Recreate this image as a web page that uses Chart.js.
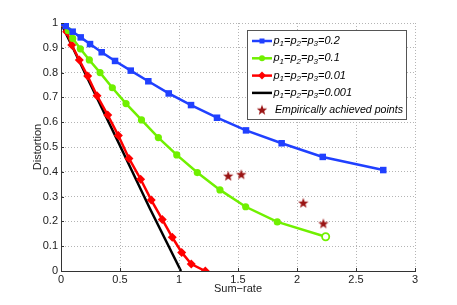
<!DOCTYPE html>
<html>
<head>
<meta charset="UTF-8">
<script src="https://cdn.jsdelivr.net/npm/chart.js"></script>
<style>
  html, body { margin: 0; padding: 0; background: #fff; }
  #box { width: 457px; height: 305px; }
</style>
</head>
<body>
<div id="box"><canvas id="grafico" width="457" height="305"></canvas></div>
<script>
// data
const rate02 = [0, 0.04, 0.099, 0.167, 0.246, 0.345, 0.458, 0.591, 0.740, 0.913, 1.102, 1.322, 1.568, 1.870, 2.218, 2.731];
const dist02 = [1, 0.988, 0.965, 0.942, 0.915, 0.882, 0.847, 0.808, 0.765, 0.716, 0.669, 0.618, 0.567, 0.515, 0.460, 0.407];

const rate01 = [0, 0.062, 0.099, 0.164, 0.240, 0.331, 0.435, 0.551, 0.682, 0.825, 0.981, 1.155, 1.347, 1.565, 1.833, 2.243];
const dist01 = [1, 0.969, 0.938, 0.896, 0.851, 0.800, 0.739, 0.675, 0.609, 0.538, 0.468, 0.397, 0.327, 0.259, 0.198, 0.138];

const rate001 = [0, 0.048, 0.091, 0.155, 0.226, 0.305, 0.396, 0.486, 0.576, 0.675, 0.765, 0.858, 0.943, 1.023, 1.104, 1.223];
const dist001 = [1, 0.965, 0.911, 0.851, 0.786, 0.707, 0.629, 0.546, 0.454, 0.370, 0.286, 0.208, 0.136, 0.075, 0.028, 0];

const rate0001 = [0, 0.25, 0.5, 0.75, 1.017];
const dist0001 = [1, 0.752, 0.505, 0.255, 0];

const rateEmp = [1.417, 1.528, 2.053, 2.223];
const distEmp = [0.384, 0.390, 0.275, 0.192];

const xTicks = [0, 0.5, 1, 1.5, 2, 2.5, 3];
const yTicks = [0, 0.1, 0.2, 0.3, 0.4, 0.5, 0.6, 0.7, 0.8, 0.9, 1];

const azul = '#2040ff', verde = '#70f000', vermelho = '#ff0000', preto = '#000000', estrela = '#9a1414';
const fonte = '"Liberation Sans", Arial, sans-serif';

function pares(xs, ys) { return xs.map((x, i) => ({ x: x, y: ys[i] })); }

// filled pentagram used as point style
function desenhaEstrela(ctx, cx, cy, r) {
    ctx.beginPath();
    for (let i = 0; i < 10; i++) {
        let rr = i % 2 === 0 ? r : r * 0.42;
        let a = -Math.PI / 2 + i * Math.PI / 5;
        ctx.lineTo(cx + rr * Math.cos(a), cy + rr * Math.sin(a));
    }
    ctx.closePath();
    ctx.fillStyle = estrela;
    ctx.fill();
}
const imgEstrela = document.createElement('canvas');
imgEstrela.width = 12; imgEstrela.height = 12;
desenhaEstrela(imgEstrela.getContext('2d'), 6, 6.5, 5.5);

const legenda = {
    id: 'legenda',
    afterDraw(chart) {
        const ctx = chart.ctx;
        ctx.save();
        // inward ticks on the left and bottom axes
        const xs = chart.scales.x, ys = chart.scales.y, a = chart.chartArea;
        ctx.strokeStyle = '#333'; ctx.lineWidth = 1;
        ctx.beginPath();
        xTicks.forEach(t => { let p = Math.round(xs.getPixelForValue(t)) + 0.5; ctx.moveTo(p, a.bottom); ctx.lineTo(p, a.bottom - 3); });
        yTicks.forEach(t => { let p = Math.round(ys.getPixelForValue(t)) + 0.5; ctx.moveTo(a.left, p); ctx.lineTo(a.left + 3, p); });
        ctx.stroke();

        // legend box
        const bx = 247.5, by = 30.5, bw = 159, bh = 89;
        ctx.fillStyle = '#fff';
        ctx.fillRect(bx, by, bw, bh);
        ctx.strokeStyle = '#555';
        ctx.strokeRect(bx, by, bw, bh);

        const itens = [
            { cor: azul, tipo: 'rect', val: '0.2' },
            { cor: verde, tipo: 'circle', val: '0.1' },
            { cor: vermelho, tipo: 'rectRot', val: '0.01' },
            { cor: preto, tipo: null, val: '0.001' }
        ];
        itens.forEach((it, i) => {
            let y = 41 + i * 17.3;
            ctx.strokeStyle = it.cor; ctx.lineWidth = 2.5;
            ctx.beginPath(); ctx.moveTo(252, y); ctx.lineTo(272, y); ctx.stroke();
            ctx.fillStyle = it.cor;
            if (it.tipo === 'rect') ctx.fillRect(259.5, y - 2.5, 5, 5);
            if (it.tipo === 'circle') { ctx.beginPath(); ctx.arc(262, y, 3, 0, 2 * Math.PI); ctx.fill(); }
            if (it.tipo === 'rectRot') { ctx.beginPath(); ctx.moveTo(262, y - 4); ctx.lineTo(266, y); ctx.lineTo(262, y + 4); ctx.lineTo(258, y); ctx.closePath(); ctx.fill(); }
            // text with subscripts
            ctx.fillStyle = '#000';
            ctx.textBaseline = 'middle';
            let x = 273.5;
            const partes = [['p', 0], ['1', 1], ['=p', 0], ['2', 1], ['=p', 0], ['3', 1], ['=' + it.val, 0]];
            partes.forEach(([t, sub]) => {
                ctx.font = sub ? 'italic 8px ' + fonte : 'italic 11px ' + fonte;
                ctx.fillText(t, x, y + (sub ? 3 : 0));
                x += ctx.measureText(t).width;
            });
        });
        let ye = 41 + 4 * 17.3;
        ctx.drawImage(imgEstrela, 256, ye - 6.5);
        ctx.fillStyle = '#000';
        ctx.font = 'italic 11px ' + fonte;
        ctx.textBaseline = 'middle';
        ctx.fillText('Empirically achieved points', 275, ye, 128);
        ctx.restore();
    }
};

const grade = { color: '#b4b4b4', lineWidth: 1, drawTicks: false };

new Chart(document.getElementById('grafico').getContext('2d'), {
    type: 'scatter',
    data: {
        datasets: [
            { label: 'p1=p2=p3=0.2', data: pares(rate02, dist02), showLine: true, borderColor: azul, backgroundColor: azul,
              borderWidth: 2.5, pointStyle: 'rect', pointRadius: 4.6, pointBorderWidth: 0, pointBackgroundColor: azul },
            { label: 'p1=p2=p3=0.1', data: pares(rate01, dist01), showLine: true, borderColor: verde, backgroundColor: verde,
              borderWidth: 2.5, pointStyle: 'circle', pointRadius: 3.6,
              pointBorderWidth: rate01.map((_, i) => i === rate01.length - 1 ? 1.8 : 0),
              pointBackgroundColor: rate01.map((_, i) => i === rate01.length - 1 ? '#fff' : verde) },
            { label: 'p1=p2=p3=0.01', data: pares(rate001, dist001), showLine: true, borderColor: vermelho, backgroundColor: vermelho,
              borderWidth: 2.5, pointStyle: 'rectRot', pointRadius: 4.5, pointBorderWidth: 0 },
            { label: 'p1=p2=p3=0.001', data: pares(rate0001, dist0001), showLine: true, borderColor: preto,
              borderWidth: 2.5, pointRadius: 0 },
            { label: 'Empirically achieved points', data: pares(rateEmp, distEmp), showLine: false,
              pointStyle: imgEstrela, pointRadius: 6 }
        ]
    },
    options: {
        responsive: false,
        animation: false,
        events: [],
        layout: { padding: { left: 0, right: 42, top: 23, bottom: 0 } },
        plugins: { legend: { display: false }, tooltip: { enabled: false } },
        scales: {
            x: {
                type: 'linear', min: 0, max: 3,
                afterBuildTicks: s => { s.ticks = xTicks.map(v => ({ value: v })); },
                afterFit: s => { s.height = 34; },
                ticks: { color: '#222', font: { family: fonte, size: 11 }, padding: 2, maxRotation: 0, callback: v => String(v) },
                grid: grade,
                border: { display: true, color: '#333', width: 1, dash: [1, 2] },
                title: { display: true, text: 'Sum\u2212rate', color: '#222', font: { family: fonte, size: 11 }, padding: { top: 0, bottom: 9 } }
            },
            y: {
                type: 'linear', min: 0, max: 1,
                afterBuildTicks: s => { s.ticks = yTicks.map(v => ({ value: v })); },
                afterFit: s => { s.width = 61; },
                ticks: { color: '#222', font: { family: fonte, size: 11 }, padding: 3, callback: v => String(v) },
                grid: grade,
                border: { display: true, color: '#333', width: 1, dash: [1, 2] },
                title: { display: true, text: 'Distortion', color: '#222', font: { family: fonte, size: 11 }, padding: { top: 31, bottom: 0 } }
            }
        }
    },
    plugins: [legenda]
});
</script>
</body>
</html>
